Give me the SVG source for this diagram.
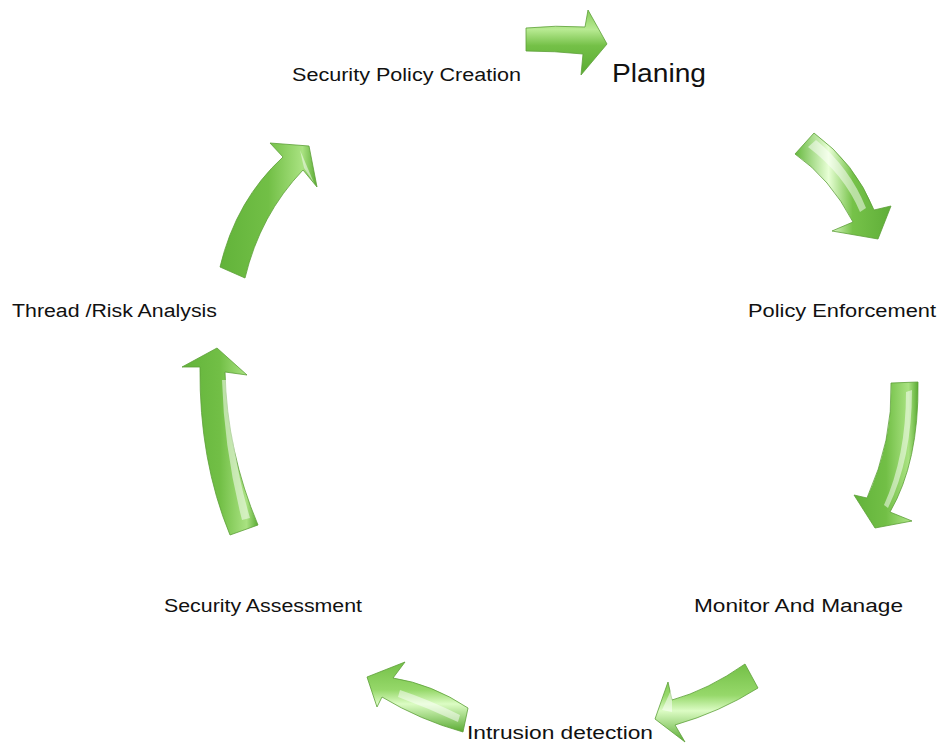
<svg xmlns="http://www.w3.org/2000/svg" width="939" height="744" viewBox="0 0 939 744">
<defs>
<linearGradient id="gH" x1="0" y1="0" x2="0" y2="1">
<stop offset="0" stop-color="#86cc58"/><stop offset="0.3" stop-color="#b8ea92"/><stop offset="0.55" stop-color="#74c047"/><stop offset="1" stop-color="#5aab33"/>
</linearGradient>
<linearGradient id="gD1" x1="0" y1="0" x2="1" y2="0">
<stop offset="0" stop-color="#66b83e"/><stop offset="0.35" stop-color="#e8ffd6"/><stop offset="0.6" stop-color="#76c249"/><stop offset="1" stop-color="#5fae38"/>
</linearGradient>
<linearGradient id="gV" x1="0" y1="0" x2="1" y2="0">
<stop offset="0" stop-color="#62b33a"/><stop offset="0.5" stop-color="#72bf46"/><stop offset="0.85" stop-color="#a9e281"/><stop offset="1" stop-color="#5aab33"/>
</linearGradient>
<linearGradient id="gB" x1="0" y1="0" x2="0" y2="1">
<stop offset="0" stop-color="#74c047"/><stop offset="0.4" stop-color="#96d86a"/><stop offset="0.6" stop-color="#dcfcc4"/><stop offset="1" stop-color="#5aab33"/>
</linearGradient>
<style>
.a{stroke:#5d9f39;stroke-width:0.8;stroke-linejoin:round}
.t{font-family:"Liberation Sans",Arial,sans-serif;font-size:18px;fill:#111}
</style>
</defs>
<g id="connectors">
<path id="arrow-1" class="a" fill="url(#gH)" d="M526,28 Q556,25 585,27 L588,10 L607,44 L581,75 L583,54 Q555,51 526,51 Z"/>
<path id="arrow-2" class="a" fill="url(#gD1)" d="M795,154 L814,133 Q855,163 874,210 L891,206 L878,239 L832,231 L853,222 Q830,178 795,154 Z"/>
<path id="arrow-3" class="a" fill="url(#gV)" d="M891,383 L918,382 Q919,462 890,512 L912,521 L875,528 L854,495 L867,498 Q893,440 891,383 Z"/>
<path id="arrow-4" class="a" fill="url(#gB)" d="M745,664 L758,688 Q720,712 675,725 L685,742 L655,719 L668,682 L672,700 Q708,690 745,664 Z"/>
<path id="arrow-5" class="a" fill="url(#gB)" d="M468,708 L463,732 Q420,720 382,697 L377,707 L367,677 L405,662 L393,678 Q432,684 468,708 Z"/>
<path id="arrow-6" class="a" fill="url(#gV)" d="M230,535 L258,525 Q227,452 225,372 L247,375 L217,348 L182,367 L200,367 Q199,460 230,535 Z"/>
<path id="arrow-7" class="a" fill="url(#gV)" d="M220,267 L245,278 Q260,215 303,170 L317,187 L309,146 L270,143 L283,157 Q236,200 220,267 Z"/>
<g fill="#ffffff" opacity="0.5">
<path d="M816,140 Q850,168 866,208 L860,212 Q844,174 808,147 Z"/>
<path d="M912,390 Q912,458 888,508 L884,505 Q906,456 906,392 Z"/>
<path d="M662,710 L672,688 L672,712 Z"/>
<path d="M400,690 Q430,700 460,715 L458,722 Q428,708 398,697 Z"/>
<path d="M242,520 Q224,450 222,380 L228,380 Q230,450 250,518 Z"/>
<path d="M300,150 L314,183 L304,168 Z"/>
</g>
</g>
<g id="node-security-policy-creation"><text class="t" x="292" y="81" textLength="229" lengthAdjust="spacingAndGlyphs">Security Policy Creation</text></g>
<g id="node-planing"><text class="t" x="612" y="82" style="font-size:26px" textLength="94" lengthAdjust="spacingAndGlyphs">Planing</text></g>
<g id="node-policy-enforcement"><text class="t" x="748" y="317" textLength="188" lengthAdjust="spacingAndGlyphs">Policy Enforcement</text></g>
<g id="node-monitor-and-manage"><text class="t" x="694" y="612" textLength="209" lengthAdjust="spacingAndGlyphs">Monitor And Manage</text></g>
<g id="node-intrusion-detection"><text class="t" x="467" y="739" textLength="186" lengthAdjust="spacingAndGlyphs">Intrusion detection</text></g>
<g id="node-security-assessment"><text class="t" x="164" y="612" textLength="198" lengthAdjust="spacingAndGlyphs">Security Assessment</text></g>
<g id="node-thread-risk-analysis"><text class="t" x="12" y="317" textLength="205" lengthAdjust="spacingAndGlyphs">Thread /Risk Analysis</text></g>
</svg>
